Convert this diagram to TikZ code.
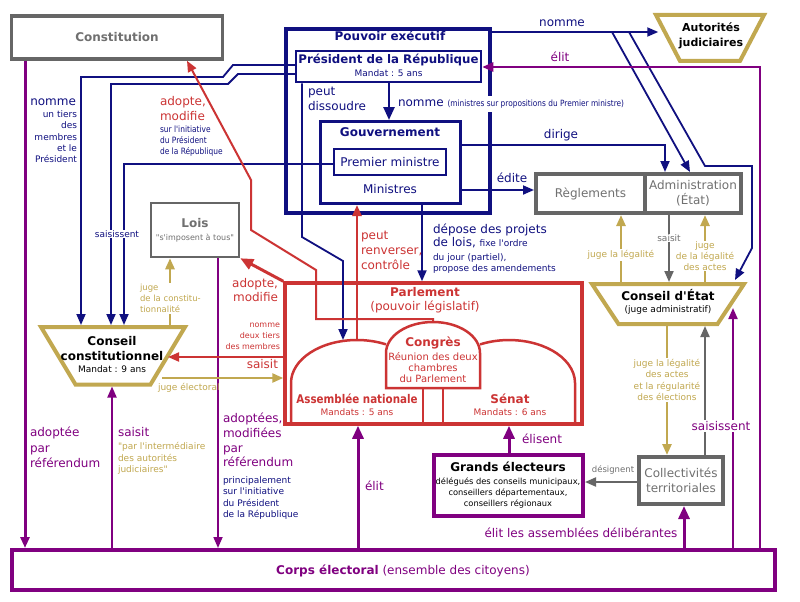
\documentclass[tikz,border=0pt]{standalone}
\usepackage{fontspec}
\setmainfont{DejaVu Sans}[Ligatures=TeXOff]
\newfontfamily\condf{DejaVu Sans}[FakeStretch=0.86,Ligatures=TeXOff]
\usetikzlibrary{arrows.meta,calc}
\definecolor{navyc}{RGB}{16,16,128}
\definecolor{purp}{RGB}{128,0,128}
\definecolor{redc}{RGB}{204,52,52}
\definecolor{goldc}{RGB}{193,168,80}
\definecolor{grayb}{RGB}{102,102,102}
\definecolor{grayt}{RGB}{112,112,112}
\newcommand\myfs[2]{\fontsize{#1}{#2}\selectfont}
\newcommand\trapz[4]{\draw[goldc,line width=4pt,line join=miter] ($(#1)+(-#2,-#3)$) -- ($(#1)+(#2,-#3)$) -- ($(#1)+(#2-#4,#3)$) -- ($(#1)+(-#2+#4,#3)$) -- cycle;}
\begin{document}
\begin{tikzpicture}[x=1pt,y=-1pt,
  every node/.style={inner sep=0pt,outer sep=0pt},
  tip/.style={-{Triangle[length=11pt,width=9pt]}},
  bigtip/.style={-{Triangle[length=13pt,width=11pt]}},
  navl/.style={navyc,line width=1.8pt},
  purl/.style={purp,line width=2pt},
  purL/.style={purp,line width=3pt},
  goldl/.style={goldc,line width=2.5pt},
  grayl/.style={grayb,line width=2pt},
  redl/.style={redc,line width=2pt},
  wl/.style={fill=white,inner sep=1pt},
  twelve/.style={font=\myfs{12}{15}},
  twelveb/.style={font=\myfs{12}{15}\bfseries},
  nine/.style={font=\myfs{9}{11.3}},
  eight/.style={font=\myfs{8}{11}}]
\fill[white] (0,0) rectangle (800,602);
\useasboundingbox (0,0) rectangle (800,602);

% ---------- boxes ----------
\node[draw=grayb,line width=3.5pt,outer sep=1.75pt,minimum width=211pt,minimum height=43pt,text=grayt,twelveb] (const) at (117,37.5) {Constitution};

\node[draw=navyc,line width=4pt,outer sep=2pt,minimum width=204pt,minimum height=184pt] (pe) at (388,121) {};
\node[draw=navyc,line width=2.5pt,outer sep=1.25pt,minimum width=185pt,minimum height=31pt] (pres) at (388.5,66.5) {};
\node[draw=navyc,line width=3pt,outer sep=1.5pt,minimum width=140pt,minimum height=82pt] (gov) at (390.5,162.5) {};
\node[draw=navyc,line width=2pt,outer sep=1pt,minimum width=112pt,minimum height=26pt,text=navyc,twelve] (pm) at (390,162) {Premier ministre};
\node[anchor=base,text=navyc,twelveb] (pet) at (390,40.5) {Pouvoir exécutif};
\node[anchor=base,text=navyc,font=\myfs{11.8}{14}\bfseries] (prest) at (388.5,63.5) {Président de la République};
\node[anchor=base,text=navyc,nine] (presm) at (388.5,76) {Mandat : 5 ans};
\node[anchor=base,text=navyc,twelveb] (govt) at (390,136.5) {Gouvernement};
\node[anchor=base,text=navyc,twelve] (mint) at (390,193.5) {Ministres};

\node[minimum width=108pt,minimum height=46pt,outer sep=1.75pt] (aj) at (710,38) {};
\trapz{aj}{54}{23}{24}
\node[anchor=north,align=center,font=\myfs{11}{15}\bfseries] (ajt) at (711,22.5) {Autorités\\judiciaires};

\node[draw=grayb,line width=4pt,outer sep=2pt,minimum width=109pt,minimum height=39pt,text=grayt,twelve] (regl) at (590.5,193.5) {Règlements};
\node[draw=grayb,line width=4pt,outer sep=2pt,minimum width=96pt,minimum height=39pt,text=grayt,align=center,twelve] (adm) at (693,193.5) {Administration\\(État)};

\node[draw=grayb,line width=2.5pt,outer sep=1.25pt,minimum width=88pt,minimum height=54pt] (lois) at (195,230) {};
\node[anchor=base,text=grayt,twelveb] (loist) at (195,227.3) {Lois};
\node[anchor=base,text=grayt,eight] (loiss) at (195,240.2) {"s'imposent à tous"};

\node[minimum width=144pt,minimum height=57.5pt,outer sep=2pt] (cc) at (113,355.75) {};
\trapz{cc}{72}{28.75}{34.5}
\node[anchor=base,twelveb] (cct1) at (112,345.3) {Conseil};
\node[anchor=base,twelveb] (cct2) at (112,360.3) {constitutionnel};
\node[anchor=base,nine] (cct3) at (112,372.5) {Mandat : 9 ans};

\node[minimum width=152pt,minimum height=40pt,outer sep=2pt] (ce) at (668,304) {};
\trapz{ce}{76}{20}{26.5}
\node[anchor=base,twelveb] (cet1) at (668,300.3) {Conseil d'État};
\node[anchor=base,nine] (cet2) at (668,312) {(juge administratif)};

% Parlement
\node[draw=redc,line width=3.5pt,outer sep=1.75pt,minimum width=297pt,minimum height=141pt] (parl) at (433.5,353.5) {};
\node[minimum width=132pt,minimum height=84pt] (an) at (357,382) {};
\node[minimum width=132pt,minimum height=84pt] (sen) at (509,382) {};
\node[minimum width=94pt,minimum height=66pt] (cong) at (433,355) {};
\draw[redc,line width=2.5pt] (291,424) -- (291,383) arc[start angle=180,end angle=64,x radius=66pt,y radius=43pt];
\draw[redc,line width=2.5pt] (480.1,344.4) arc[start angle=116,end angle=0,x radius=66pt,y radius=43pt] -- (575,424);
\draw[redc,line width=2.5pt] (386,388) -- (386,353) arc[start angle=180,end angle=0,x radius=47pt,y radius=31pt] -- (480,388) -- cycle;
\draw[redc,line width=2.5pt] (423,388) -- (423,424) (443,388) -- (443,424);
\node[anchor=base,text=redc,twelveb] (parlt) at (425,296.3) {Parlement};
\node[anchor=base,text=redc,twelve] (parls) at (425,310.3) {(pouvoir législatif)};
\node[anchor=base,text=redc,twelveb] (congt) at (433,346.3) {Congrès};
\node[anchor=north,align=center,text=redc,font=\myfs{10}{10.9}] (congs) at (433,352.4) {Réunion des deux\\chambres\\du Parlement};
\node[anchor=base,text=redc,font=\condf\myfs{12}{14}\bfseries] (ant) at (357,403.3) {Assemblée nationale};
\node[anchor=base,text=redc,nine] (anm) at (357,415.5) {Mandats : 5 ans};
\node[anchor=base,text=redc,twelveb] (sent) at (510,403.3) {Sénat};
\node[anchor=base,text=redc,nine] (senm) at (510,415.5) {Mandats : 6 ans};

% Corps electoral, grands electeurs, collectivites
\node[draw=purp,line width=4pt,outer sep=2pt,minimum width=763pt,minimum height=40pt] (corps) at (393.5,570) {};
\node[anchor=base,text=purp,twelve] (corpst) at (403,574.3) {{\bfseries Corps électoral} (ensemble des citoyens)};
\node[draw=purp,line width=4pt,outer sep=2pt,minimum width=149pt,minimum height=61pt] (ge) at (508.5,485.5) {};
\node[anchor=base,twelveb] (get) at (508,471.3) {Grands électeurs};
\node[anchor=north,align=center,font=\myfs{8.3}{11}] (ges) at (508,478) {délégués des conseils municipaux,\\conseillers départementaux,\\conseillers régionaux};
\node[draw=grayb,line width=4pt,outer sep=2pt,minimum width=84pt,minimum height=47pt,text=grayt,align=center,twelve] (coll) at (681,480.5) {Collectivités\\territoriales};

% ---------- connectors ----------
\coordinate (nj1) at (612,32);
\coordinate (nj2) at (629,32);
\coordinate (ccj) at (162,378);
\coordinate (ccr) at (168,357);

% navy
\draw[navl,line width=2.5pt,bigtip] (389,0 |- pres.south) -- (389,0 |- gov.north);
\draw[navl,tip] (pres.west |- 0,65) -- (233,65) -- (223,77) -- (81,77) -- (81,0 |- cc.north);
\draw[navl,tip] (pres.west |- 0,74) -- (238,74) -- (228,84) -- (111,84) -- (111,0 |- cc.north);
\draw[navl,tip] (pm.west |- 0,164) -- (124,164) -- (124,0 |- cc.north);
\draw[navl,tip] (302,0 |- pres.south) -- (302,237) -- (343,261) -- (343,0 |- an.north);
\draw[navl,tip] (gov.east |- 0,145) -- (665,145) -- (665,0 |- adm.north);
\draw[navl,tip] (gov.east |- 0,190) -- (regl.west |- 0,190);
\draw[navl,tip] (pe.east |- 0,32) -- ($(aj.west |- 0,32)+(4,0)$);
\draw[navl,tip] (nj1) -- (690,0 |- adm.north);
\draw[navl,tip] (nj2) -- (705,166) -- (752,166) -- (752,248) -- (735,280);
\draw[navl,line width=2pt,tip] (422,0 |- gov.south) -- (422,0 |- parl.north);

% purple
\draw[purL,tip] (25,0 |- const.south) -- (25,0 |- corps.north);
\draw[purl,line width=1.7pt,tip] (218,0 |- lois.south) -- (218,0 |- corps.north);
\draw[purl,tip] (112,0 |- corps.north) -- (112,0 |- cc.south);
\draw[purL,bigtip] (358,0 |- corps.north) -- (358,0 |- parl.south);
\draw[purL,bigtip] (509,0 |- ge.north) -- (509,0 |- parl.south);
\draw[purL,bigtip] (684,0 |- corps.north) -- (684,0 |- coll.south);
\draw[purl,tip] (733,0 |- corps.north) -- (733,308);
\draw[purl,line width=2.5pt,tip] (760,0 |- corps.north) -- (760,67) -- (pres.east |- 0,67);

% gold
\draw[goldl,tip] (170,0 |- cc.north) -- (170,0 |- lois.south);
\draw[goldl,tip] (ccj) -- (parl.west |- ccj);
\draw[goldl,tip] (621,0 |- ce.north) -- (621,0 |- regl.south);
\draw[goldl,tip] (705,0 |- ce.north) -- (705,0 |- adm.south);
\draw[goldl,tip] (667,0 |- ce.south) -- (667,0 |- coll.north);

% gray
\draw[grayl,tip] (669,0 |- adm.south) -- (669,0 |- ce.north);
\draw[grayl,tip] (705,0 |- coll.north) -- (705,0 |- ce.south);
\draw[grayl,tip] (coll.west |- 0,482) -- (ge.east |- 0,482);

% red
\draw[redl,line width=2.5pt,tip] (357,0 |- an.north) -- (357,0 |- gov.south);
\draw[redl,tip] (cong.north) |- (316,319) -- (316,270) -- (251,230) -- (251,180) -- (187,0 |- const.south);
\draw[redl,line width=3pt,bigtip] (parl.north west) -- (lois.south east);
\draw[redl,tip] (parl.west |- ccr) -- (ccr);

% ---------- labels ----------
\node[anchor=base east,text=navyc,twelve] (l1) at (76,105.3) {nomme};
\node[anchor=north east,align=right,text=navyc,nine] (l2) at (77,110.6) {un tiers\\des\\membres\\et le\\Président};
\node[anchor=north west,align=left,text=redc,twelve] (l3) at (160,96) {adopte,\\modifie};
\node[anchor=north west,align=left,text=navyc,font=\condf\myfs{8.7}{11.3}] (l4) at (160,125.5) {sur l'initiative\\du Président\\de la République};
\node[anchor=north west,align=left,text=navyc,twelve] (l5) at (308,87) {peut\\dissoudre};
\node[anchor=base west,text=navyc,twelve,fill=white,inner xsep=1pt,inner ysep=4pt] (l6) at (397,106.3) {nomme {\condf\myfs{8.6}{10}(ministres sur propositions du Premier ministre)}};
\node[wl,text=navyc,nine] (l7) at (117,234) {saisissent};
\node[wl,anchor=north west,align=left,text=goldc,font=\myfs{8.5}{11}] (l8) at (139,283) {juge\\de la constitu-\\tionnalité};
\node[anchor=north east,align=right,text=redc,font=\myfs{12}{14.5}] (l9) at (278,278) {adopte,\\modifie};
\node[anchor=north east,align=right,text=redc,eight] (l10) at (280,323) {nomme\\deux tiers\\des membres};
\node[anchor=base east,text=redc,twelve] (l11) at (278,368.3) {saisit};
\node[anchor=base west,text=goldc,nine] (l12) at (158,390.5) {juge électoral};
\node[anchor=north west,align=left,text=purp,font=\myfs{12}{15.5}] (l13) at (30,427) {adoptée\\par\\référendum};
\node[anchor=base west,text=purp,twelve] (l14) at (118,436.3) {saisit};
\node[anchor=north west,align=left,text=goldc,font=\myfs{9}{11.5}] (l15) at (118,442.6) {"par l'intermédiaire\\des autorités\\judiciaires"};
\node[anchor=north west,align=left,text=purp,font=\myfs{12}{14.7}] (l16) at (223,413) {adoptées,\\modifiées\\par\\référendum};
\node[anchor=north west,align=left,text=navyc,nine] (l17) at (223,476.6) {principalement\\sur l'initiative\\du Président\\de la République};
\node[anchor=north west,align=left,text=redc,twelve] (l18) at (361,231) {peut\\renverser,\\contrôle};
\node[anchor=base west,text=navyc,twelve] (l19) at (433,233.3) {dépose des projets};
\node[anchor=base west,text=navyc,twelve] (l20) at (433,246.3) {de lois, {\myfs{9}{11}fixe l'ordre}};
\node[anchor=base west,text=navyc,nine] (l21) at (433,260.5) {du jour (partiel),};
\node[anchor=base west,text=navyc,nine] (l22) at (433,271.5) {propose des amendements};
\node[anchor=base,text=navyc,twelve] (l23) at (562,26.3) {nomme};
\node[anchor=base,text=purp,twelve] (l24) at (560,61.3) {élit};
\node[anchor=base,text=navyc,twelve] (l25) at (561,138.3) {dirige};
\node[anchor=base,text=navyc,twelve] (l26) at (512,182.3) {édite};
\node[wl,text=goldc,nine] (l27) at (621,255) {juge la légalité};
\node[wl,text=grayt,nine] (l28) at (669,238) {saisit};
\node[wl,align=center,text=goldc,font=\myfs{9}{11}] (l29) at (705,256) {juge\\de la légalité\\des actes};
\node[wl,align=center,text=goldc,nine] (l30) at (667,380) {juge la légalité\\des actes\\et la régularité\\des élections};
\node[wl,text=purp,twelve] (l31) at (721,426) {saisissent};
\node[anchor=base,text=grayt,font=\myfs{8.5}{10}] (l32) at (613,472.5) {désignent};
\node[anchor=base,text=purp,twelve] (l33) at (581,537.3) {élit les assemblées délibérantes};
\node[anchor=base west,text=purp,twelve] (l34) at (522,443.3) {élisent};
\node[anchor=base west,text=purp,twelve] (l35) at (365,490.3) {élit};
\end{tikzpicture}
\end{document}
